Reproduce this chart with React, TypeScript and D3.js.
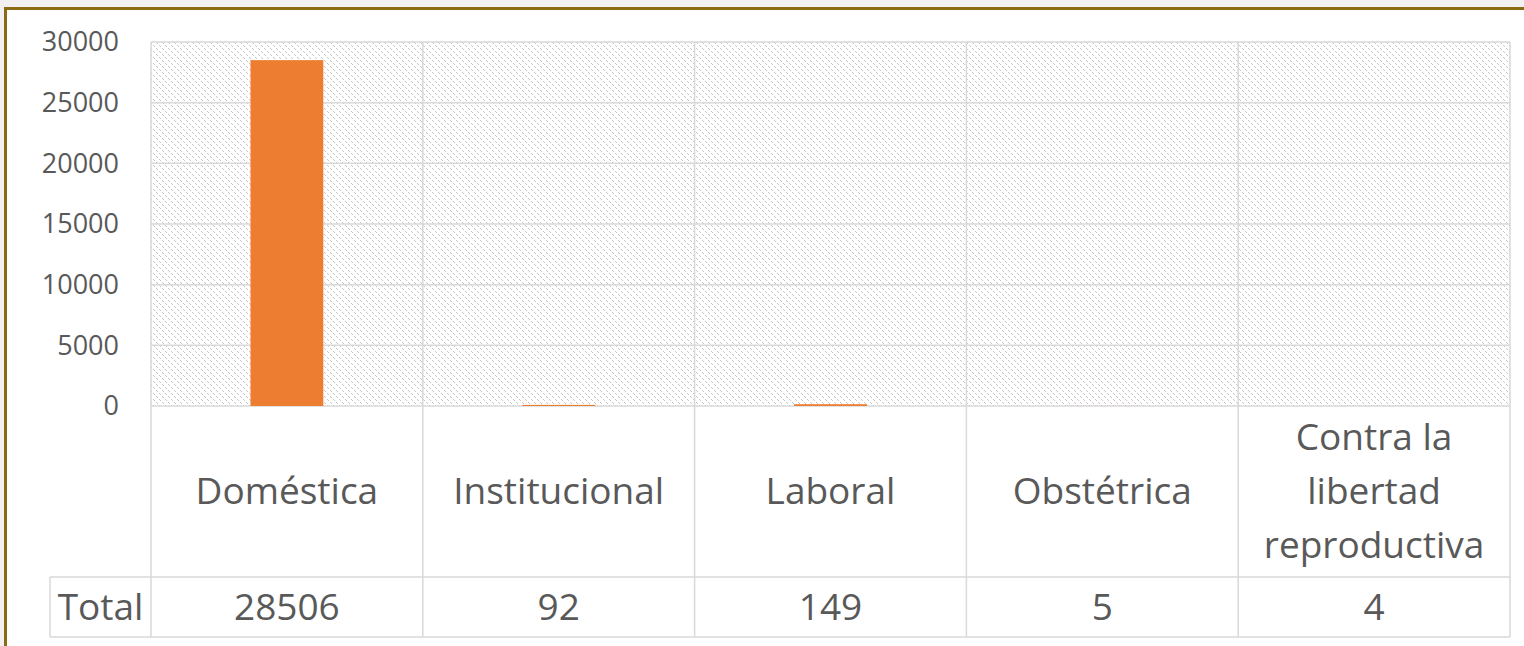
import React, { useEffect } from "react";
import * as d3 from "d3";

const categories: string[][] = [
  ["Doméstica"],
  ["Institucional"],
  ["Laboral"],
  ["Obstétrica"],
  ["Contra la", "libertad", "reproductiva"],
];
const totals: number[] = [28506, 92, 149, 5, 4];
const yTicks: number[] = [0, 5000, 10000, 15000, 20000, 25000, 30000];
const rowLabel = "Total";

const W = 1524;
const H = 646;
const FONT = "'Open Sans', 'Noto Sans', sans-serif";
const TXT = "#595959";
const GRID = "#d9d9d9";
const hatchPixels = [0, 1, 3, 4];

export default function App() {
  useEffect(() => {
    document.body.style.margin = "0";
    document.body.style.background = "#f2f0f0";
  }, []);

  const plotLeft = 151;
  const plotRight = 1510;
  const plotTop = 42;
  const plotBottom = 406;
  const rowSplit = 577;
  const tableBottom = 637;
  const totalLeft = 50;

  const keys = categories.map((c) => c.join(" "));
  const x = d3.scaleBand<string>().domain(keys).range([plotLeft, plotRight]).paddingInner(0).paddingOuter(0);
  const y = d3.scaleLinear().domain([0, 30000]).range([plotBottom, plotTop]);
  const bw = x.bandwidth();
  const barW = bw * 0.268;

  const boundaries = keys.map((k) => x(k) as number).concat([plotRight]);

  return (
    <svg width={W} height={H} style={{ display: "block" }} fontFamily={FONT}>
      <defs>
        <pattern id="hatch" x="0" y="0" width="6" height="6" patternUnits="userSpaceOnUse">
          <rect width="6" height="6" fill="#ffffff" />
          {hatchPixels.map((p) => (
            <rect key={p} x={p} y={p} width={1} height={1} fill="#c6c6c6" shapeRendering="crispEdges" />
          ))}
        </pattern>
      </defs>
      <rect x={0} y={0} width={W} height={H} fill="#f2f0f0" />
      <rect x={5.5} y={8.5} width={W + 20} height={H + 20} fill="#ffffff" stroke="#8a6a12" strokeWidth={3} />

      {/* plot area */}
      <rect x={plotLeft} y={plotTop} width={plotRight - plotLeft} height={plotBottom - plotTop} fill="url(#hatch)" />

      {/* horizontal gridlines */}
      {yTicks.map((t) => (
        <line key={"g" + t} x1={plotLeft} x2={plotRight} y1={y(t)} y2={y(t)} stroke={GRID} strokeWidth={1.5} />
      ))}
      {/* vertical lines through plot and table */}
      {boundaries.map((b, i) => (
        <line key={"v" + i} x1={b} x2={b} y1={plotTop} y2={tableBottom} stroke={GRID} strokeWidth={1.5} />
      ))}
      {/* table horizontal lines */}
      <line x1={totalLeft} x2={plotRight} y1={rowSplit} y2={rowSplit} stroke={GRID} strokeWidth={1.5} />
      <line x1={totalLeft} x2={plotRight} y1={tableBottom} y2={tableBottom} stroke={GRID} strokeWidth={1.5} />
      <line x1={totalLeft} x2={totalLeft} y1={rowSplit} y2={tableBottom} stroke={GRID} strokeWidth={1.5} />

      {/* bars */}
      {keys.map((k, i) => {
        const cx = (x(k) as number) + bw / 2;
        const h = plotBottom - y(totals[i]);
        return (
          <rect key={"b" + k} x={cx - barW / 2} y={y(totals[i])} width={barW} height={Math.max(h, 0)} fill="#ED7D31" />
        );
      })}

      {/* y tick labels */}
      {yTicks.map((t) => (
        <text key={"t" + t} x={119} y={y(t)} dy="0.35em" textAnchor="end" fontSize={27} fill={TXT}>
          {t}
        </text>
      ))}

      {/* category labels */}
      {categories.map((lines, i) => {
        const cx = (x(keys[i]) as number) + bw / 2;
        const lh = 54;
        const base = 504 - ((lines.length - 1) / 2) * lh;
        return (
          <text key={"c" + i} textAnchor="middle" fontSize={37} fill={TXT}>
            {lines.map((l, j) => (
              <tspan key={j} x={cx} y={base + j * lh}>
                {l}
              </tspan>
            ))}
          </text>
        );
      })}

      {/* total row */}
      <text x={(totalLeft + plotLeft) / 2} y={620} textAnchor="middle" fontSize={37} fill={TXT}>
        {rowLabel}
      </text>
      {keys.map((k, i) => (
        <text key={"v" + k} x={(x(k) as number) + bw / 2} y={620} textAnchor="middle" fontSize={37} fill={TXT}>
          {totals[i]}
        </text>
      ))}
    </svg>
  );
}
